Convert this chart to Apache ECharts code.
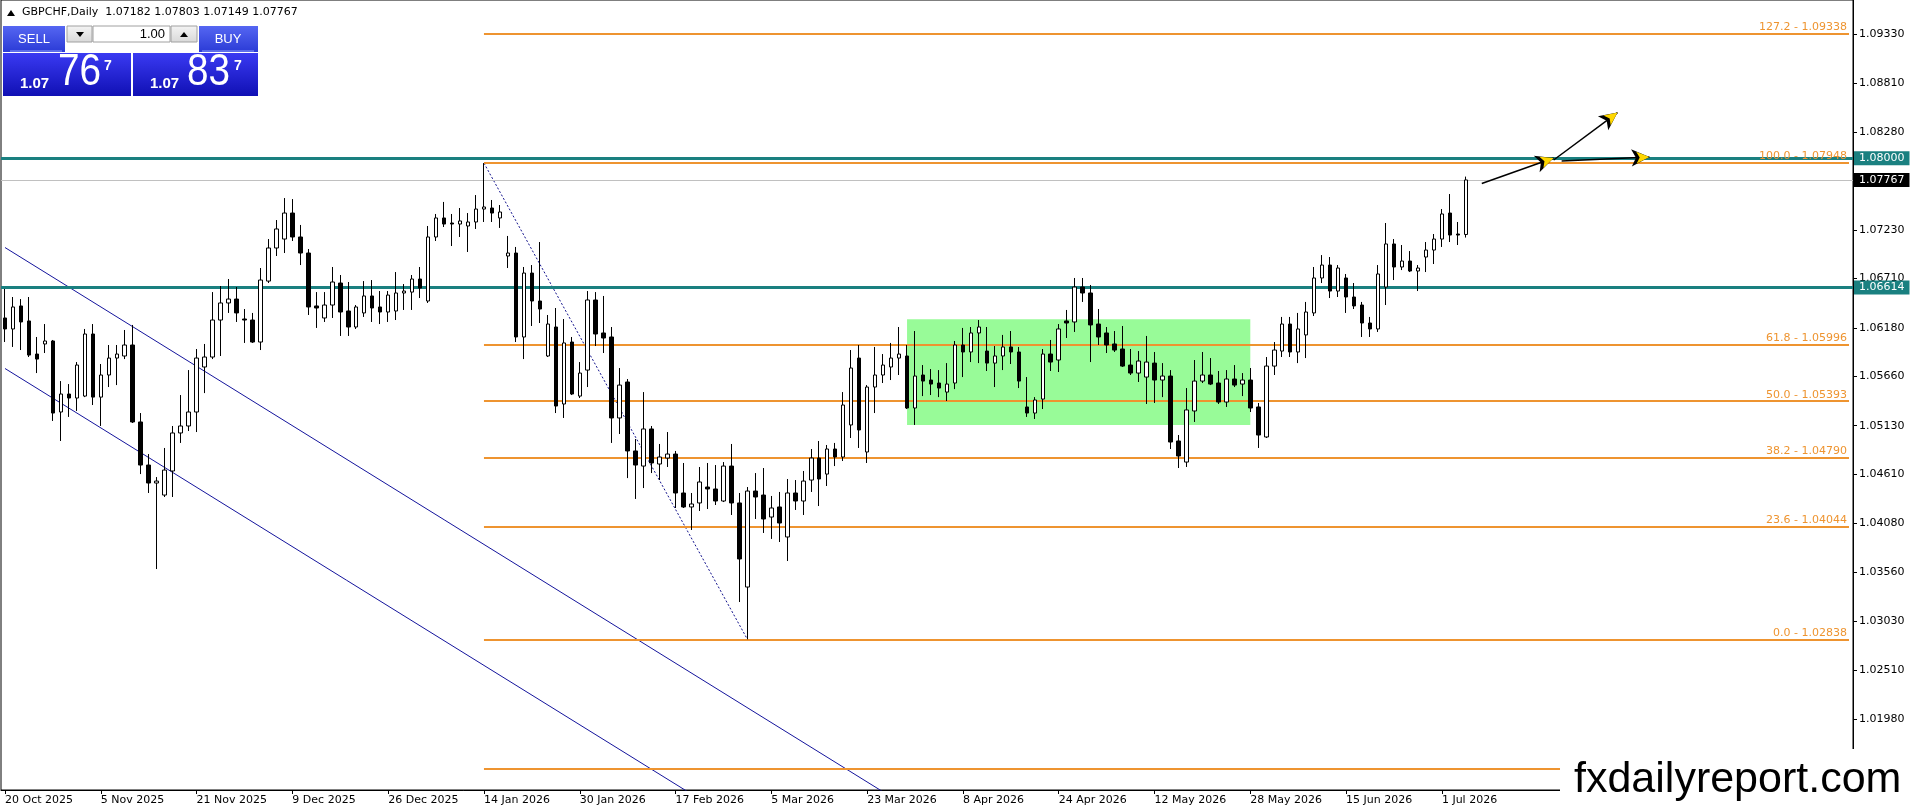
<!DOCTYPE html>
<html><head><meta charset="utf-8">
<script src="https://cdn.jsdelivr.net/npm/echarts@6/dist/echarts.min.js"></script>
<style>html,body{margin:0;padding:0;background:#fff}#c{width:1916px;height:812px}</style>
</head><body><div id="c"></div>
<script>
// ---- data (GBPCHF daily) ----
const openP = [1.06286,1.06168,1.06415,1.06254,1.05899,1.06007,1.06039,1.05277,1.05470,1.05427,
1.05448,1.06114,1.05437,1.05674,1.05856,1.05878,1.05996,1.05170,1.04708,1.04515,
1.04386,1.04644,1.05052,1.05127,1.05277,1.05760,1.05867,1.06264,1.06447,1.06489,
1.06275,1.06264,1.06028,1.06682,1.07037,1.07133,1.07412,1.07155,1.06983,1.06415,
1.06286,1.06425,1.06661,1.06361,1.06189,1.06340,1.06522,1.06404,1.06350,1.06361,
1.06554,1.06564,1.06704,1.06468,1.07155,1.07359,1.07305,1.07294,1.07273,1.07316,
1.07455,1.07466,1.07359,1.06951,1.06983,1.06082,1.06768,1.06468,1.05878,1.06189,
1.05363,1.06028,1.05448,1.05727,1.06479,1.06125,1.06082,1.05213,1.05599,1.04859,
1.04697,1.05095,1.04719,1.04783,1.04826,1.04408,1.04258,1.04301,1.04472,1.04451,
1.04322,1.04697,1.04301,1.03399,1.04429,1.04386,1.04150,1.04258,1.03936,1.04408,
1.04322,1.04547,1.04783,1.04611,1.04880,1.04794,1.05138,1.05856,1.04848,1.05545,
1.05674,1.05760,1.05856,1.05878,1.05320,1.05674,1.05620,1.05588,1.05491,1.05588,
1.05996,1.05921,1.06125,1.05931,1.05802,1.05878,1.05975,1.05921,1.05331,1.05266,
1.05416,1.05899,1.05835,1.06254,1.06243,1.06618,1.06554,1.06221,1.06125,1.06007,
1.05953,1.05781,1.05695,1.05652,1.05802,1.05620,1.05663,1.04966,1.04740,1.05288,
1.05609,1.05674,1.05588,1.05384,1.05631,1.05577,1.05620,1.05331,1.05009,1.05770,
1.05931,1.06221,1.05921,1.06104,1.06340,1.06715,1.06854,1.06575,1.06715,1.06511,
1.06425,1.06232,1.06168,1.06618,1.07080,1.06833,1.06897,1.06790,1.06940,1.07015,
1.07133,1.07412,1.07187,1.07182];
const highP = [1.06597,1.06511,1.06489,1.06511,1.06082,1.06221,1.06050,1.05609,1.05577,1.05813,
1.06168,1.06221,1.05792,1.05996,1.05996,1.06157,1.06211,1.05266,1.04826,1.04579,
1.04891,1.05127,1.05459,1.05727,1.05953,1.06007,1.06564,1.06629,1.06704,1.06618,
1.06382,1.06340,1.06822,1.07133,1.07337,1.07573,1.07562,1.07284,1.07026,1.06564,
1.06564,1.06833,1.06747,1.06672,1.06425,1.06682,1.06693,1.06575,1.06575,1.06779,
1.06650,1.06747,1.06833,1.07273,1.07402,1.07531,1.07402,1.07466,1.07412,1.07605,
1.07948,1.07552,1.07498,1.07166,1.07048,1.06833,1.06854,1.07101,1.06318,1.06393,
1.06275,1.06082,1.05813,1.06575,1.06564,1.06522,1.06189,1.05749,1.05631,1.04987,
1.05491,1.05127,1.04934,1.05062,1.04859,1.04730,1.04408,1.04687,1.04730,1.04708,
1.04740,1.04934,1.04408,1.04472,1.04622,1.04676,1.04376,1.04419,1.04558,1.04547,
1.04644,1.04880,1.04966,1.04923,1.04945,1.05491,1.05942,1.05996,1.05566,1.05975,
1.05899,1.06018,1.06189,1.05996,1.06146,1.05781,1.05738,1.05727,1.05802,1.06039,
1.06179,1.06189,1.06264,1.06189,1.05985,1.06104,1.06146,1.05975,1.05652,1.05437,
1.05953,1.06050,1.06221,1.06372,1.06715,1.06715,1.06640,1.06382,1.06189,1.06146,
1.06200,1.05953,1.05931,1.06093,1.05921,1.05802,1.05727,1.05030,1.05534,1.05835,
1.05921,1.05856,1.05717,1.05727,1.05781,1.05695,1.05749,1.05374,1.05867,1.06028,
1.06297,1.06297,1.06340,1.06458,1.06833,1.06961,1.06940,1.06854,1.06758,1.06661,
1.06458,1.06297,1.06854,1.07305,1.07133,1.07069,1.07004,1.06854,1.07101,1.07187,
1.07455,1.07616,1.07316,1.07803];
const lowP = [1.06028,1.05975,1.05942,1.05867,1.05695,1.05910,1.05181,1.04966,1.05224,1.05288,
1.05437,1.05352,1.05127,1.05545,1.05566,1.05845,1.05159,1.04611,1.04408,1.03592,
1.04365,1.04365,1.04945,1.05073,1.05062,1.05480,1.05845,1.05878,1.06340,1.06243,
1.06018,1.06018,1.05942,1.06661,1.06951,1.06983,1.07112,1.06854,1.06318,1.06179,
1.06243,1.06286,1.06093,1.06093,1.06168,1.06297,1.06243,1.06221,1.06243,1.06264,
1.06372,1.06372,1.06500,1.06447,1.07112,1.07262,1.07058,1.07155,1.06994,1.07241,
1.07316,1.07316,1.07252,1.06822,1.06028,1.05845,1.06200,1.06232,1.05867,1.05266,
1.05213,1.05459,1.05427,1.05545,1.05985,1.05910,1.04945,1.05041,1.04568,1.04344,
1.04461,1.04622,1.04547,1.04687,1.04247,1.04247,1.04011,1.04215,1.04236,1.04279,
1.04311,1.04172,1.03238,1.02838,1.04129,1.03979,1.03915,1.03882,1.03678,1.04226,
1.04172,1.04419,1.04268,1.04483,1.04697,1.04751,1.04998,1.04891,1.04730,1.05266,
1.05588,1.05620,1.05674,1.05309,1.05138,1.05448,1.05459,1.05437,1.05395,1.05523,
1.05652,1.05813,1.05802,1.05717,1.05545,1.05727,1.05792,1.05534,1.05224,1.05202,
1.05309,1.05717,1.05706,1.06071,1.06136,1.06458,1.05813,1.05996,1.05910,1.05921,
1.05760,1.05674,1.05599,1.05363,1.05374,1.05437,1.04880,1.04676,1.04687,1.05170,
1.05588,1.05566,1.05363,1.05331,1.05545,1.05448,1.05277,1.04891,1.04998,1.05674,
1.05867,1.05867,1.05802,1.05856,1.06307,1.06661,1.06500,1.06511,1.06340,1.06382,
1.06082,1.06082,1.06136,1.06425,1.06693,1.06800,1.06779,1.06575,1.06779,1.06865,
1.07048,1.07101,1.07069,1.07149];
const closeP = [1.06168,1.06404,1.06243,1.05888,1.05845,1.06039,1.05266,1.05470,1.05427,1.05781,
1.06114,1.05437,1.05674,1.05856,1.05899,1.05996,1.05170,1.04708,1.04515,1.04536,
1.04654,1.05052,1.05127,1.05277,1.05856,1.05867,1.06264,1.06447,1.06489,1.06340,
1.06264,1.06028,1.06693,1.07037,1.07241,1.07412,1.07155,1.06983,1.06404,1.06393,
1.06425,1.06672,1.06350,1.06189,1.06404,1.06522,1.06393,1.06350,1.06532,1.06554,
1.06575,1.06704,1.06607,1.07155,1.07359,1.07294,1.07294,1.07327,1.07316,1.07455,
1.07477,1.07412,1.07423,1.06983,1.06082,1.06768,1.06468,1.06382,1.06221,1.05341,
1.06018,1.05470,1.05695,1.06479,1.06114,1.06071,1.05213,1.05566,1.04859,1.04708,
1.05095,1.04730,1.04794,1.04826,1.04408,1.04258,1.04290,1.04526,1.04451,1.04322,
1.04697,1.04301,1.03700,1.04429,1.04365,1.04129,1.04247,1.04086,1.04408,1.04322,
1.04536,1.04783,1.04558,1.04880,1.04794,1.05352,1.05749,1.05084,1.05545,1.05674,
1.05781,1.05856,1.05899,1.05320,1.05663,1.05609,1.05577,1.05534,1.05577,1.05996,
1.05921,1.06125,1.06189,1.05802,1.05878,1.05975,1.05921,1.05609,1.05266,1.05406,
1.05899,1.05813,1.06168,1.06232,1.06618,1.06554,1.06211,1.06082,1.05996,1.05942,
1.05770,1.05695,1.05824,1.05813,1.05620,1.05663,1.04955,1.04805,1.05299,1.05609,
1.05674,1.05577,1.05384,1.05631,1.05566,1.05620,1.05320,1.05030,1.05770,1.05942,
1.06221,1.05921,1.06168,1.06350,1.06715,1.06854,1.06575,1.06822,1.06511,1.06415,
1.06232,1.06168,1.06758,1.07080,1.06833,1.06897,1.06790,1.06822,1.07015,1.07133,
1.07402,1.07176,1.07176,1.07767];

// calendar: weekday bars starting 20 Oct 2025, market closed on these days
const firstDay = '2025-10-20';
const closedDays = ['2025-12-25', '2026-01-01'];
const totalSlots = 232;           // visible bar slots incl. empty space on the right
const labelEvery = 12;

// price axis
const yMin = 1.01221, yMax = 1.09698;
const yTickValues = [1.0933,1.0881,1.0828,1.0723,1.0671,1.0618,1.0566,1.0513,1.0461,1.0408,1.0356,1.0303,1.0251,1.0198];

// drawing objects
const fibNames  = ['127.2','100.0','61.8','50.0','38.2','23.6','0.0','-27.2'];
const fibPrices = [1.09338,1.07948,1.05996,1.05393,1.04790,1.04044,1.02838,1.01448];
const fibStartBar = 60, fibEndBar = 231;
const fibTrend = [[60,1.07948],[93,1.02838]];
const tealLevels = [1.08000, 1.06614];
const lastPrice = 1.07767;
const channelUpper = [[0,1.07042],[120,1.00670]];
const channelLower = [[0,1.05744],[100,1.00434]];
const rangeBox = [[113,1.06272],[156,1.05138]];
const arrowSegs = [
  [[185,1.07729],[194,1.08003]],
  [[194,1.07981],[202,1.08490]],
  [[195,1.07970],[206,1.08013]]
];
const headerText = 'GBPCHF,Daily  1.07182 1.07803 1.07149 1.07767';

// ---- build ----
const MONTHS = ['Jan','Feb','Mar','Apr','May','Jun','Jul','Aug','Sep','Oct','Nov','Dec'];
const categories = [];
{
  const d = new Date(firstDay + 'T00:00:00Z');
  while (categories.length < totalSlots) {
    const wd = d.getUTCDay();
    const iso = d.toISOString().slice(0,10);
    if (wd !== 0 && wd !== 6 && closedDays.indexOf(iso) < 0) {
      categories.push(d.getUTCDate() + ' ' + MONTHS[d.getUTCMonth()] + ' ' + d.getUTCFullYear());
    }
    d.setUTCDate(d.getUTCDate() + 1);
  }
}
const lastBar = openP.length - 1;
const candleData = openP.map((o,i)=>[o, closeP[i], lowP[i], highP[i]]);
const labelInterval = (idx) => idx % labelEvery === 0 && idx <= lastBar;

const FONT = '"DejaVu Sans", Verdana, sans-serif';
const ORANGE = '#ee9430';
const TEAL = '#1a8080';
const NAVY = '#14149c';

const fibLines = fibPrices.map((p,i)=>[
  {coord:[fibStartBar,p], label:{show:true, position:'insideEndTop', distance:[2,1],
     formatter: fibNames[i] + ' - ' + p.toFixed(5), color:ORANGE, fontSize:11, fontFamily:FONT}},
  {coord:[fibEndBar,p]}
]);
const tagLabel = (txt,bg)=>({show:true, position:'end', distance:1, formatter:txt, backgroundColor:bg,
   color:'#fff', padding:[2,5,1,5], fontSize:11, fontFamily:FONT});
const levelLines = tealLevels.map(v=>({yAxis:v, lineStyle:{color:TEAL,width:3,type:'solid'}, label:tagLabel(v.toFixed(5),TEAL)}));
levelLines.unshift({yAxis:lastPrice, lineStyle:{color:'#c0c0c0',width:1,type:'solid'}, label:tagLabel(lastPrice.toFixed(5),'#000')});

const arrowLines = [];
arrowSegs.forEach(s=>{
  arrowLines.push([{coord:s[0], symbol:'none'},{coord:s[1], symbol:'arrow', symbolSize:[13,18], lineStyle:{color:'#000',width:1.5,type:'solid'}}]);
  arrowLines.push([{coord:s[0], symbol:'none'},{coord:s[1], symbol:'arrow', symbolSize:[9,13], lineStyle:{color:'#ffd700',width:0,type:'solid'}}]);
});

const panelGrad = (a,b)=>new echarts.graphic.LinearGradient(0,0,0,1,[{offset:0,color:a},{offset:1,color:b}]);

const option = {
  animation:false,
  backgroundColor:'#ffffff',
  grid:{left:1, right:63, top:0, bottom:22, show:true, borderColor:'#000', borderWidth:1},
  xAxis:{type:'category', data:categories, boundaryGap:true,
    axisLine:{show:true, lineStyle:{color:'#000',width:1}},
    axisTick:{show:true, alignWithLabel:true, interval:labelInterval, length:4, lineStyle:{color:'#000'}},
    axisLabel:{interval:labelInterval, align:'left', margin:5, fontSize:11, fontFamily:FONT, color:'#000'},
    splitLine:{show:false}},
  yAxis:{type:'value', position:'right', min:yMin, max:yMax,
    axisLine:{show:true, lineStyle:{color:'#000',width:1}},
    axisTick:{show:true, length:4, customValues:yTickValues, lineStyle:{color:'#000'}},
    axisLabel:{customValues:yTickValues, formatter:(v)=>v.toFixed(5), margin:6, fontSize:11, fontFamily:FONT, color:'#000'},
    splitLine:{show:false}},
  series:[
    {type:'line', data:[], z:1, silent:true,
      markArea:{silent:true, itemStyle:{color:'#98fb98', opacity:1}, data:[[{coord:rangeBox[0]},{coord:rangeBox[1]}]]}},
    {type:'line', data:[], z:2, silent:true,
      markLine:{silent:true, precision:5, symbol:['none','none'], animation:false,
        lineStyle:{color:ORANGE, width:2, type:'solid'}, data:fibLines}},
    {type:'line', data:[], z:3, silent:true,
      markLine:{silent:true, precision:5, symbol:['none','none'], animation:false, data:levelLines}},
    {type:'line', data:channelUpper, z:3, showSymbol:false, symbol:'none', clip:true, silent:true,
      lineStyle:{color:NAVY, width:1}},
    {type:'line', data:channelLower, z:3, showSymbol:false, symbol:'none', clip:true, silent:true,
      lineStyle:{color:NAVY, width:1}},
    {type:'line', data:fibTrend, z:3, showSymbol:false, symbol:'none', clip:true, silent:true,
      lineStyle:{color:'#10108c', width:1, type:[2,2]}},
    {type:'candlestick', data:candleData, z:5, barWidth:4, silent:true, clip:true,
      itemStyle:{color:'#ffffff', color0:'#000000', borderColor:'#000000', borderColor0:'#000000', borderWidth:1}},
    {type:'line', data:[], z:6, silent:true,
      markLine:{silent:true, precision:5, animation:false, data:arrowLines}}
  ],
  graphic:[
    {type:'polygon', z:100, shape:{points:[[7,16],[15,16],[11,10]]}, style:{fill:'#000'}},
    {type:'text', z:100, x:22, y:7, style:{text:headerText, font:'11px '+FONT, fill:'#000'}},
    // trade panel
    {type:'rect', z:100, shape:{x:3,y:26,width:62,height:26}, style:{fill:panelGrad('#5566f2','#2b3bd6')}},
    {type:'line', z:101, shape:{x1:10,y1:51,x2:62,y2:51}, style:{stroke:'#8fa0ff',lineWidth:1}},
    {type:'text', z:101, x:34, y:39, style:{text:'SELL', font:'13px "Liberation Sans", Arial', fill:'#fff', align:'center', verticalAlign:'middle'}},
    {type:'rect', z:100, shape:{x:67,y:26,width:25,height:16}, style:{fill:panelGrad('#f4f4f4','#d8d8d8'), stroke:'#a0a0a0'}},
    {type:'polygon', z:101, shape:{points:[[76,32],[84,32],[80,37]]}, style:{fill:'#000'}},
    {type:'rect', z:100, shape:{x:93,y:26,width:77,height:16}, style:{fill:'#fff', stroke:'#a0a0a0'}},
    {type:'text', z:101, x:165, y:34, style:{text:'1.00', font:'13px "Liberation Sans", Arial', fill:'#000', align:'right', verticalAlign:'middle'}},
    {type:'rect', z:100, shape:{x:171,y:26,width:26,height:16}, style:{fill:panelGrad('#f4f4f4','#d8d8d8'), stroke:'#a0a0a0'}},
    {type:'polygon', z:101, shape:{points:[[180,37],[188,37],[184,32]]}, style:{fill:'#000'}},
    {type:'rect', z:100, shape:{x:199,y:26,width:59,height:26}, style:{fill:panelGrad('#5566f2','#2b3bd6')}},
    {type:'line', z:101, shape:{x1:202,y1:51,x2:254,y2:51}, style:{stroke:'#8fa0ff',lineWidth:1}},
    {type:'text', z:101, x:228, y:39, style:{text:'BUY', font:'13px "Liberation Sans", Arial', fill:'#fff', align:'center', verticalAlign:'middle'}},
    {type:'rect', z:100, shape:{x:3,y:53,width:128,height:43}, style:{fill:panelGrad('#3a3af2','#1010b4')}},
    {type:'rect', z:100, shape:{x:133,y:53,width:125,height:43}, style:{fill:panelGrad('#3a3af2','#1010b4')}},
    {type:'text', z:101, x:20, y:91, style:{text:'1.07', font:'bold 15px "Liberation Sans", Arial', fill:'#fff', verticalAlign:'bottom'}},
    {type:'text', z:101, x:58, y:95, scaleX:0.86, originX:0, style:{text:'76', font:'45px "Liberation Sans", Arial', fill:'#fff', verticalAlign:'bottom'}},
    {type:'text', z:101, x:104, y:59, style:{text:'7', font:'bold 14px "Liberation Sans", Arial', fill:'#fff', verticalAlign:'top'}},
    {type:'text', z:101, x:150, y:91, style:{text:'1.07', font:'bold 15px "Liberation Sans", Arial', fill:'#fff', verticalAlign:'bottom'}},
    {type:'text', z:101, x:187, y:95, scaleX:0.86, originX:0, style:{text:'83', font:'45px "Liberation Sans", Arial', fill:'#fff', verticalAlign:'bottom'}},
    {type:'text', z:101, x:234, y:59, style:{text:'7', font:'bold 14px "Liberation Sans", Arial', fill:'#fff', verticalAlign:'top'}},
    // watermark
    {type:'rect', z:100, shape:{x:1560,y:749,width:356,height:63}, style:{fill:'#fff'}},
    {type:'text', z:101, x:1574, y:780, style:{text:'fxdailyreport.com', font:'43px "Liberation Sans", Arial', fill:'#000', verticalAlign:'middle'}}
  ]
};
const chart = echarts.init(document.getElementById('c'), null, {renderer:'canvas'});
chart.setOption(option);
</script>
</body></html>
